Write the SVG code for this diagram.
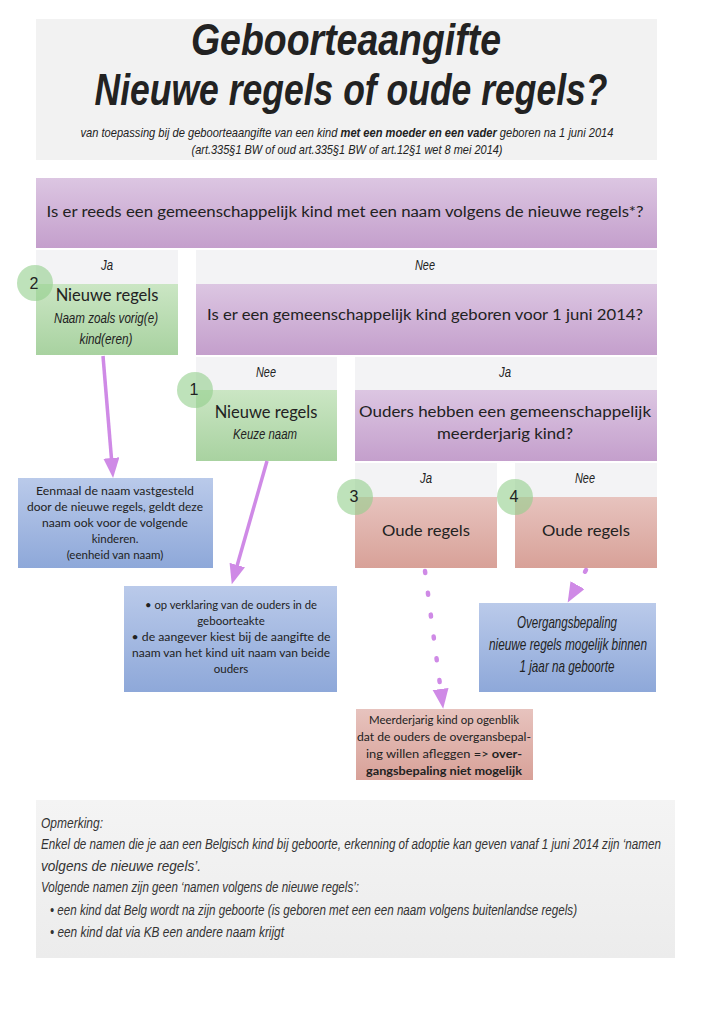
<svg xmlns="http://www.w3.org/2000/svg" width="716" height="1024" viewBox="0 0 716 1024">
<defs>
<linearGradient id="gP" x1="0" y1="0" x2="0" y2="1"><stop offset="0" stop-color="#dcc6e2"/><stop offset="1" stop-color="#c49fcc"/></linearGradient>
<linearGradient id="gG" x1="0" y1="0" x2="0" y2="1"><stop offset="0" stop-color="#cbe6c4"/><stop offset="1" stop-color="#a8d2a0"/></linearGradient>
<linearGradient id="gR" x1="0" y1="0" x2="0" y2="1"><stop offset="0" stop-color="#e7c3be"/><stop offset="1" stop-color="#d8a198"/></linearGradient>
<linearGradient id="gB" x1="0" y1="0" x2="0" y2="1"><stop offset="0" stop-color="#bacaea"/><stop offset="1" stop-color="#8ea8d9"/></linearGradient>
<linearGradient id="gW" x1="0" y1="0" x2="0" y2="1"><stop offset="0" stop-color="#f4f4f4"/><stop offset="1" stop-color="#ececec"/></linearGradient>
<marker id="ah" markerUnits="userSpaceOnUse" markerWidth="22" markerHeight="18" refX="1" refY="8" orient="auto"><path d="M0,0 L20,8 L0,16 Z" fill="#cf8ae6"/></marker>
</defs>
<style>
.lbl{fill:#f3f3f5}
.t{font-family:Lato,'Liberation Sans',sans-serif;fill:#222;text-anchor:middle}
.c{font-family:'Liberation Sans Narrow','Liberation Sans',sans-serif;font-style:italic;fill:#222;text-anchor:middle}
.n{font-family:'Liberation Sans',sans-serif;fill:#222;text-anchor:middle;font-size:16px}
.conn{stroke:#cf8ae6;stroke-width:3.5;fill:none}
.dot{stroke-dasharray:2 20;stroke-linecap:round;stroke-width:4.5}
.num{fill:#93ce8c;opacity:.6}
</style>
<rect width="716" height="1024" fill="#fff"/>

<g id="title">
<rect x="36" y="19" width="621" height="141" fill="#f2f2f2"/>
<text class="c" x="346" y="55" font-size="44" font-weight="bold" fill="#333" textLength="310" lengthAdjust="spacingAndGlyphs">Geboorteaangifte</text>
<text class="c" x="351" y="105" font-size="44" font-weight="bold" fill="#333" textLength="513" lengthAdjust="spacingAndGlyphs">Nieuwe regels of oude regels?</text>
<text class="c" x="347" y="137" font-size="13" textLength="533" lengthAdjust="spacingAndGlyphs">van toepassing bij de geboorteaangifte van een kind <tspan font-weight="bold">met een moeder en een vader</tspan> geboren na 1 juni 2014</text>
<text class="c" x="347" y="154" font-size="13" textLength="311" lengthAdjust="spacingAndGlyphs">(art.335§1 BW of oud art.335§1 BW of art.12§1 wet 8 mei 2014)</text>
</g>

<g id="q1">
<rect x="36" y="178" width="621" height="70" fill="url(#gP)"/>
<text class="t" x="345" y="217" font-size="15.5" textLength="597" lengthAdjust="spacingAndGlyphs">Is er reeds een gemeenschappelijk kind met een naam volgens de nieuwe regels*?</text>
</g>

<g id="lbl-ja1"><rect class="lbl" x="36" y="250" width="142" height="34"/><text class="c" x="107" y="270" font-size="14.5" textLength="12" lengthAdjust="spacingAndGlyphs">Ja</text></g>
<g id="lbl-nee1"><rect class="lbl" x="196" y="250" width="461" height="34"/><text class="c" x="425" y="270" font-size="14.5" textLength="20" lengthAdjust="spacingAndGlyphs">Nee</text></g>

<g id="n2">
<rect x="36" y="284" width="142" height="71" fill="url(#gG)"/>
<text class="t" x="107" y="301" font-size="16.5">Nieuwe regels</text>
<text class="c" x="106" y="323" font-size="15.5" textLength="104" lengthAdjust="spacingAndGlyphs">Naam zoals vorig(e)</text>
<text class="c" x="106" y="344" font-size="15.5" textLength="53" lengthAdjust="spacingAndGlyphs">kind(eren)</text>
<circle class="num" cx="35" cy="283" r="18"/>
<text class="n" x="34" y="289">2</text>
</g>

<g id="q2">
<rect x="196" y="284" width="461" height="71" fill="url(#gP)"/>
<text class="t" x="425" y="320" font-size="15.5" textLength="436" lengthAdjust="spacingAndGlyphs">Is er een gemeenschappelijk kind geboren voor 1 juni 2014?</text>
</g>

<g id="lbl-nee2"><rect class="lbl" x="196" y="357" width="141" height="33"/><text class="c" x="266" y="377" font-size="14.5" textLength="20" lengthAdjust="spacingAndGlyphs">Nee</text></g>
<g id="lbl-ja2"><rect class="lbl" x="355" y="357" width="302" height="33"/><text class="c" x="505" y="377" font-size="14.5" textLength="12" lengthAdjust="spacingAndGlyphs">Ja</text></g>

<g id="n1">
<rect x="196" y="390" width="141" height="71" fill="url(#gG)"/>
<text class="t" x="266" y="418" font-size="16.5">Nieuwe regels</text>
<text class="c" x="265" y="439" font-size="15.5" textLength="64" lengthAdjust="spacingAndGlyphs">Keuze naam</text>
<circle class="num" cx="195" cy="390" r="18"/>
<text class="n" x="194" y="395">1</text>
</g>

<g id="q3">
<rect x="355" y="390" width="302" height="71" fill="url(#gP)"/>
<text class="t" x="505" y="417" font-size="16" textLength="292" lengthAdjust="spacingAndGlyphs">Ouders hebben een gemeenschappelijk</text>
<text class="t" x="505" y="439" font-size="16" textLength="136" lengthAdjust="spacingAndGlyphs">meerderjarig kind?</text>
</g>

<g id="lbl-ja3"><rect class="lbl" x="355" y="463" width="142" height="34"/><text class="c" x="426" y="483" font-size="14.5" textLength="12" lengthAdjust="spacingAndGlyphs">Ja</text></g>
<g id="lbl-nee3"><rect class="lbl" x="515" y="463" width="142" height="34"/><text class="c" x="585" y="483" font-size="14.5" textLength="20" lengthAdjust="spacingAndGlyphs">Nee</text></g>

<g id="n3">
<rect x="355" y="497" width="142" height="71" fill="url(#gR)"/>
<text class="t" x="426" y="536" font-size="16" textLength="88" lengthAdjust="spacingAndGlyphs">Oude regels</text>
<circle class="num" cx="355" cy="497" r="18"/>
<text class="n" x="354" y="502">3</text>
</g>

<g id="n4">
<rect x="515" y="497" width="142" height="71" fill="url(#gR)"/>
<text class="t" x="586" y="536" font-size="16" textLength="88" lengthAdjust="spacingAndGlyphs">Oude regels</text>
<circle class="num" cx="515" cy="497" r="18"/>
<text class="n" x="514" y="502">4</text>
</g>

<g id="b1">
<rect x="18" y="478" width="195" height="90" fill="url(#gB)"/>
<g class="t" font-size="11.5">
<text x="115" y="495" textLength="158" lengthAdjust="spacingAndGlyphs">Eenmaal de naam vastgesteld</text>
<text x="115" y="511" textLength="176" lengthAdjust="spacingAndGlyphs">door de nieuwe regels, geldt deze</text>
<text x="115" y="527" textLength="146" lengthAdjust="spacingAndGlyphs">naam ook voor de volgende</text>
<text x="115" y="543">kinderen.</text>
<text x="115" y="559">(eenheid van naam)</text>
</g>
</g>

<g id="b2">
<rect x="124" y="586" width="213" height="106" fill="url(#gB)"/>
<g class="t" font-size="11.5">
<text x="231" y="609" textLength="172" lengthAdjust="spacingAndGlyphs">• op verklaring van de ouders in de</text>
<text x="231" y="625">geboorteakte</text>
<text x="231" y="641" textLength="199" lengthAdjust="spacingAndGlyphs">• de aangever kiest bij de aangifte de</text>
<text x="231" y="657" textLength="198" lengthAdjust="spacingAndGlyphs">naam van het kind uit naam van beide</text>
<text x="231" y="673">ouders</text>
</g>
</g>

<g id="b3">
<rect x="479" y="603" width="177" height="89" fill="url(#gB)"/>
<g class="c" font-size="16.5">
<text x="567" y="628" textLength="100" lengthAdjust="spacingAndGlyphs">Overgangsbepaling</text>
<text x="568" y="650" textLength="158" lengthAdjust="spacingAndGlyphs">nieuwe regels mogelijk binnen</text>
<text x="567" y="672" textLength="95" lengthAdjust="spacingAndGlyphs">1 jaar na geboorte</text>
</g>
</g>

<g id="r5">
<rect x="356" y="709" width="177" height="71" fill="url(#gR)"/>
<g class="t" font-size="11.5">
<text x="444" y="724" textLength="150" lengthAdjust="spacingAndGlyphs">Meerderjarig kind op ogenblik</text>
<text x="444" y="741" textLength="174" lengthAdjust="spacingAndGlyphs">dat de ouders de overgansbepal-</text>
<text x="444" y="758" textLength="156" lengthAdjust="spacingAndGlyphs">ing willen afleggen =&gt; <tspan font-weight="bold">over-</tspan></text>
<text x="444" y="775" font-weight="bold" textLength="156" lengthAdjust="spacingAndGlyphs">gangsbepaling niet mogelijk</text>
</g>
</g>

<g id="connectors">
<line class="conn" x1="103" y1="356" x2="111.5" y2="459" marker-end="url(#ah)"/>
<line class="conn" x1="267" y1="461" x2="237" y2="566" marker-end="url(#ah)"/>
<line class="conn dot" x1="425" y1="571" x2="440.7" y2="690" marker-end="url(#ah)"/>
<line class="conn dot" x1="586" y1="570" x2="577" y2="586" marker-end="url(#ah)"/>
</g>

<g id="note">
<rect x="36" y="800" width="639" height="158" fill="url(#gW)"/>
<g font-family="'Liberation Sans Narrow','Liberation Sans',sans-serif" font-style="italic" font-size="14.5" fill="#333">
<text x="41" y="828" textLength="62" lengthAdjust="spacingAndGlyphs">Opmerking:</text>
<text x="41" y="849" textLength="620" lengthAdjust="spacingAndGlyphs">Enkel de namen die je aan een Belgisch kind bij geboorte, erkenning of adoptie kan geven vanaf 1 juni 2014  zijn ‘namen</text>
<text x="41" y="871" textLength="160" lengthAdjust="spacingAndGlyphs">volgens de nieuwe regels’.</text>
<text x="41" y="892" textLength="318" lengthAdjust="spacingAndGlyphs">Volgende namen zijn geen ‘namen volgens de nieuwe regels’:</text>
<text x="50" y="915" textLength="527" lengthAdjust="spacingAndGlyphs">• een kind dat Belg wordt na zijn geboorte (is geboren met een een naam volgens buitenlandse regels)</text>
<text x="50" y="937" textLength="234" lengthAdjust="spacingAndGlyphs">• een kind dat via KB een andere naam krijgt</text>
</g>
</g>
</svg>
